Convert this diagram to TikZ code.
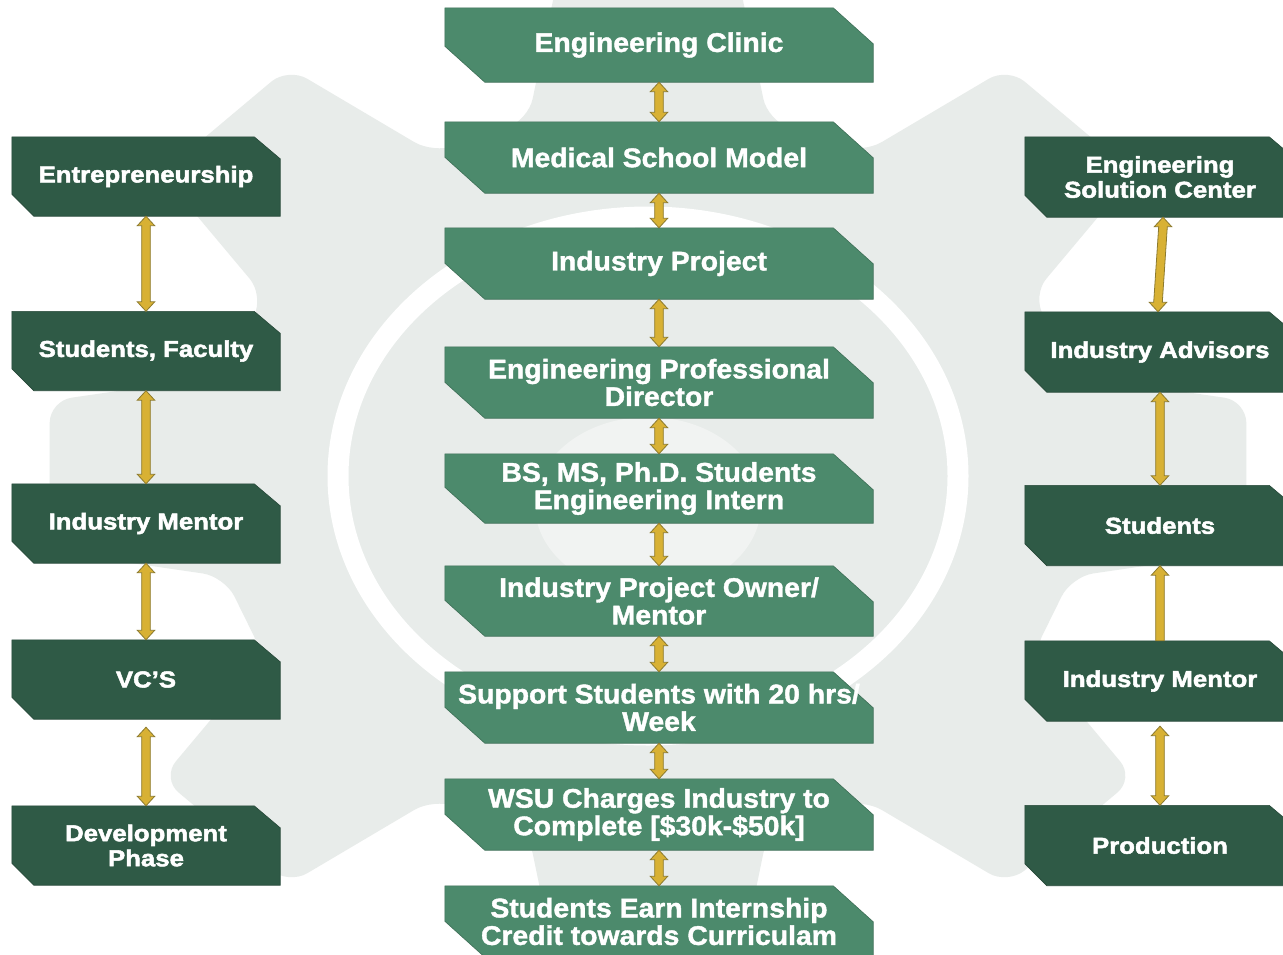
\documentclass[tikz,border=0pt]{standalone}
\usepackage{fontspec}
\usetikzlibrary{calc}
\newfontfamily\cfont{Liberation Sans}[FakeStretch=1.05,FakeBold=1.4]
\newfontfamily\sfont{Liberation Sans}[FakeStretch=1.12,FakeBold=2.2]
\definecolor{cfill}{HTML}{4C8A6C}
\definecolor{sfill}{HTML}{2F5A46}
\definecolor{gearc}{HTML}{E8ECEA}
\definecolor{discc}{HTML}{F1F3F2}
\definecolor{gold}{HTML}{D8B134}
\definecolor{goldline}{HTML}{8C7A2E}
\pgfdeclarelayer{bg}
\pgfdeclarelayer{boxes}
\pgfsetlayers{bg,boxes,main}
\newcommand\dblarr[2]{%
  \draw[arr] let \p1=#1, \p2=#2 in
    (\x1,\y1) -- (\x1+8.7pt,\y1-9.5pt) -- (\x1+4.3pt,\y1-9.5pt)
    -- (\x2+4.3pt,\y2+9.5pt) -- (\x2+8.7pt,\y2+9.5pt) -- (\x2,\y2)
    -- (\x2-8.7pt,\y2+9.5pt) -- (\x2-4.3pt,\y2+9.5pt)
    -- (\x1-4.3pt,\y1-9.5pt) -- (\x1-8.7pt,\y1-9.5pt) -- cycle;}
\newcommand\uparr[2]{%
  \draw[arr] let \p1=#1, \p2=#2 in
    (\x1,\y1) -- (\x1+8.7pt,\y1-9.5pt) -- (\x1+4.3pt,\y1-9.5pt)
    -- (\x2+4.3pt,\y2) -- (\x2-4.3pt,\y2)
    -- (\x1-4.3pt,\y1-9.5pt) -- (\x1-8.7pt,\y1-9.5pt) -- cycle;}
\begin{document}
\begin{tikzpicture}[x=1pt,y=-1pt,
  cbox/.style={minimum width=428pt, minimum height=71pt, inner sep=0pt,
    text=white, align=center, font=\cfont\bfseries\fontsize{27}{27.5}\selectfont},
  sbox/.style={minimum width=268pt, minimum height=79pt, inner sep=0pt,
    text=white, align=center, font=\sfont\bfseries\fontsize{23}{25}\selectfont},
  rbox/.style={sbox, minimum width=270pt, minimum height=80pt},
  cshape/.style={fill=cfill, draw=cfill!80!black, line width=0.6pt},
  sshape/.style={fill=sfill, draw=sfill!80!black, line width=0.6pt},
  arr/.style={fill=gold, draw=goldline, line width=0.8pt, line join=miter}]
\useasboundingbox (0,0) rectangle (1283,954);

\begin{pgfonlayer}{bg}
  \fill[white] (0,0) rectangle (1283,954);
  \begin{scope}[shift={(648,476)}, yscale=0.84]
    \fill[gearc, rounded corners=22pt] (-22.5:440)
      foreach \a in {0,45,...,315} {
        -- (\a-15.8:440) -- (\a-8.5:605) -- (\a+8.5:605) -- (\a+15.8:440)
      } -- cycle;
  \end{scope}
  \draw[white, line width=21pt] (648,476) ellipse [x radius=310, y radius=259];
  \fill[discc] (648,505) ellipse [x radius=113, y radius=88];
\end{pgfonlayer}

% centre column
\node[cbox, minimum height=74pt] (ec) at (659,45) {Engineering Clinic};
\node[cbox] (msm) at (659,157.5) {Medical School Model};
\node[cbox] (ip) at (659,263.5) {Industry Project};
\node[cbox] (epd) at (659,382.5) {Engineering Professional\\Director};
\node[cbox, minimum height=69pt] (bs) at (659,488.5) {BS, MS, Ph.D. Students\\Engineering Intern};
\node[cbox, minimum height=70pt] (ipo) at (659,601) {Industry Project Owner/\\Mentor};
\node[cbox] (ss) at (659,707.5) {Support Students with 20 hrs/\\Week};
\node[cbox] (wsu) at (659,814.5) {WSU Charges Industry to\\Complete [\$30k-\$50k]};
\node[cbox] (se) at (659,921.5) {Students Earn Internship\\Credit towards Curriculam};

% left column
\node[sbox] (ent) at (146,176.5) {Entrepreneurship};
\node[sbox] (sf) at (146,351) {Students, Faculty};
\node[sbox] (lim) at (146,523.5) {Industry Mentor};
\node[sbox] (vc) at (146,679.5) {VC’S};
\node[sbox] (dev) at (146,845.5) {Development\\Phase};

% right column
\node[rbox] (esc) at (1160,177) {Engineering\\Solution Center};
\node[rbox] (ia) at (1160,352) {Industry Advisors};
\node[rbox] (stu) at (1160,525.5) {Students};
\node[rbox] (rim) at (1160,681) {Industry Mentor};
\node[rbox] (prod) at (1160,845.5) {Production};

\begin{pgfonlayer}{boxes}
  \foreach \n in {ec,msm,ip,epd,bs,ipo,ss,wsu,se}{
    \filldraw[cshape] (\n.north west) -- ([xshift=-40pt]\n.north east)
      -- ([yshift=-36pt]\n.north east) -- (\n.south east)
      -- ([xshift=40pt]\n.south west) -- ([yshift=36pt]\n.south west) -- cycle;}
  \foreach \n in {ent,sf,lim,vc,dev,esc,ia,stu,rim,prod}{
    \filldraw[sshape] (\n.north west) -- ([xshift=-26pt]\n.north east)
      -- ([yshift=-22pt]\n.north east) -- (\n.south east)
      -- ([xshift=22pt]\n.south west) -- ([yshift=22pt]\n.south west) -- cycle;}
\end{pgfonlayer}

% centre arrows
\dblarr{(ec.south)}{(msm.north)}
\dblarr{(msm.south)}{(ip.north)}
\dblarr{(ip.south)}{(epd.north)}
\dblarr{(epd.south)}{(bs.north)}
\dblarr{(bs.south)}{(ipo.north)}
\dblarr{(ipo.south)}{(ss.north)}
\dblarr{(ss.south)}{(wsu.north)}
\dblarr{(wsu.south)}{(se.north)}

% left arrows
\dblarr{(ent.south)}{(sf.north)}
\dblarr{(sf.south)}{(lim.north)}
\dblarr{(lim.south)}{(vc.north)}
\dblarr{([yshift=-8pt]vc.south)}{(dev.north)}

% right arrows
\dblarr{([xshift=3pt]esc.south)}{([xshift=-2pt]ia.north)}
\dblarr{(ia.south)}{(stu.north)}
\uparr{(stu.south)}{(rim.north)}
\dblarr{([yshift=-5pt]rim.south)}{(prod.north)}
\end{tikzpicture}
\end{document}
